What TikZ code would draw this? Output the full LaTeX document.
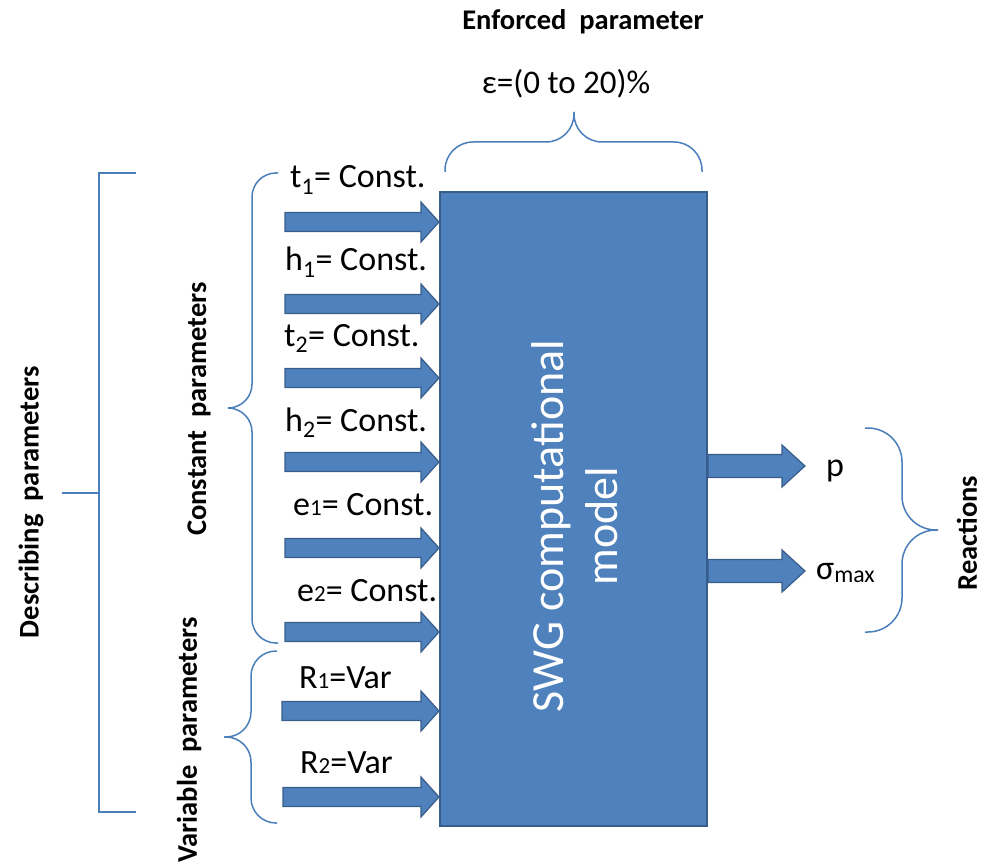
\documentclass[tikz,border=0pt]{standalone}
\usepackage{fontspec}
\setmainfont{Carlito}
\usetikzlibrary{calc}

\definecolor{boxfill}{HTML}{4F81BD}
\definecolor{boxline}{HTML}{385D8A}
\definecolor{bracecol}{HTML}{4A7EBB}

% block arrow: tail, tip, shaft half-height, head half-height, head length
\newcommand{\blockarrow}[5]{%
  \draw[arrowbody] ($(#1)+(0,-#3)$) -- ($(#2)+(-#5,-#3)$) -- ($(#2)+(-#5,-#4)$)
    -- (#2) -- ($(#2)+(-#5,#4)$) -- ($(#2)+(-#5,#3)$) -- ($(#1)+(0,#3)$) -- cycle;}
\newcommand{\smalldig}[1]{{\fontsize{23}{23}\selectfont #1}}

\begin{document}
\begin{tikzpicture}[x=1pt,y=-1pt,
  arrowbody/.style={fill=boxfill,draw=boxline,line width=1.2pt,line join=miter},
  modelbox/.style={rectangle,fill=boxfill,draw=boxline,line width=2pt,
    minimum width=267pt,minimum height=634pt,inner sep=0pt},
  param/.style={anchor=base west,inner sep=0pt,font=\fontsize{34}{40}\selectfont},
  headline/.style={inner sep=0pt,font=\fontsize{28.5}{34}\selectfont\bfseries},
  sidehead/.style={headline,rotate=90},
  bracket/.style={draw=bracecol,line width=1.5pt},
  curly/.style={bracket,rounded corners=#1}]

\useasboundingbox (0,0) rectangle (990,866);

% computational model
\node[modelbox] (box) at (573.5,509) {};
\node[rotate=90,text=white,align=center,inner sep=0pt,
  font=\fontsize{46}{54}\selectfont] (boxlabel) at (575,526) {SWG computational\\model};

% input arrow tails
\coordinate (in1) at (285,222);
\coordinate (in2) at (285,304);
\coordinate (in3) at (285,378);
\coordinate (in4) at (285,462);
\coordinate (in5) at (285,548);
\coordinate (in6) at (285,632);
\coordinate (in7) at (282,711);
\coordinate (in8) at (283,797);
\foreach \i in {1,...,8} {
  \coordinate (tip\i) at (box.west |- in\i);
  \blockarrow{in\i}{tip\i}{9.5}{20}{18}
}

% input labels
\node[param] (lt1) at (290,188) {t\textsubscript{1}= Const.};
\node[param] (lh1) at (285,271) {h\textsubscript{1}= Const.};
\node[param] (lt2) at (284,346) {t\textsubscript{2}= Const.};
\node[param] (lh2) at (285,431) {h\textsubscript{2}= Const.};
\node[param] (le1) at (293,515) {e\smalldig{1}= Const.};
\node[param] (le2) at (297,601) {e\smalldig{2}= Const.};
\node[param] (lr1) at (299,688) {R\smalldig{1}=Var};
\node[param] (lr2) at (300,773) {R\smalldig{2}=Var};

% output arrows
\coordinate (outp) at (805,466);
\coordinate (outs) at (805,571);
\coordinate (srcp) at (box.east |- outp);
\coordinate (srcs) at (box.east |- outs);
\blockarrow{srcp}{outp}{11.5}{21}{23}
\blockarrow{srcs}{outs}{11.5}{21}{23}
\node[param] (lp) at (826,476) {p};
\node[param] (ls) at (816,579) {σ\textsubscript{max}};

% enforced parameter
\node[headline] (enf) at (583,22) {Enforced\ \ parameter};
\node[inner sep=0pt,font=\fontsize{33}{38}\selectfont] (eps) at (566,84) {ε=(0 to 20)\%};
\coordinate (ttip) at (574,112);
\draw[curly=28pt] (445,172) -- (445,142) -- (574,142) -- (ttip);
\draw[curly=28pt] (702,172) -- (702,142) -- (574,142) -- (ttip);

% reactions
\coordinate (rtip) at (938,530);
\draw[curly=34pt] (865,428) -- (902,428) -- (902,530) -- (rtip);
\draw[curly=34pt] (865,632) -- (902,632) -- (902,530) -- (rtip);
\node[sidehead] (react) at (967,533) {Reactions};

% constant parameters group
\coordinate (ctip) at (228,408);
\draw[curly=24pt] (278,173) -- (252,173) -- (252,408) -- (ctip);
\draw[curly=24pt] (278,643) -- (252,643) -- (252,408) -- (ctip);
\node[sidehead] (const) at (199,409) {Constant\ \ parameters};

% variable parameters group
\coordinate (vtip) at (224,737);
\draw[curly=25pt] (277,651) -- (251,651) -- (251,737) -- (vtip);
\draw[curly=25pt] (277,823) -- (251,823) -- (251,737) -- (vtip);
\node[sidehead] (var) at (189,740) {Variable\ \ parameters};

% describing parameters bracket
\coordinate (dtop) at (136,173);
\coordinate (dbot) at (136,812);
\draw[bracket] (dtop) -- (99,173) -- (99,812) -- (dbot);
\draw[bracket] (62,493) -- (99,493);
\node[sidehead] (desc) at (31,502) {Describing\ \ parameters};

\end{tikzpicture}
\end{document}
